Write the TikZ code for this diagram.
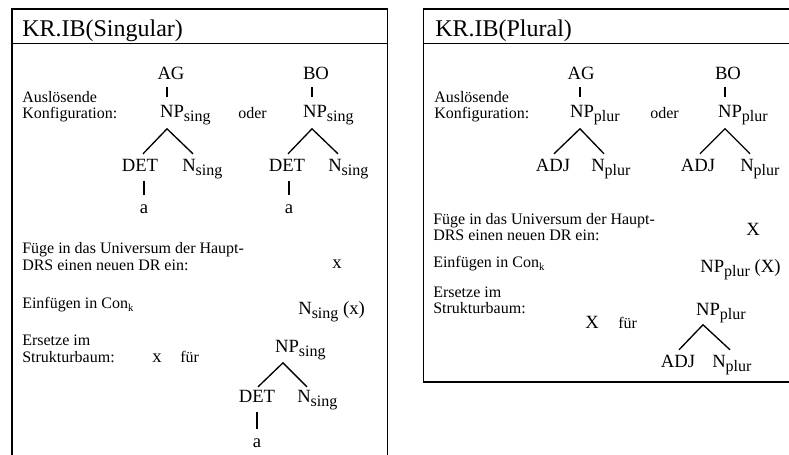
\documentclass[tikz,border=0pt]{standalone}
\usepackage{fontspec}
\setmainfont{Liberation Serif}
\usetikzlibrary{calc}

% lowered index in a smaller size (NP_sing, Con_k)
\newcommand{\lowsub}[2][12]{\raisebox{-0.22em}{\fontsize{#1}{#1}\selectfont #2}}

\begin{document}
\begin{tikzpicture}[
  x=0.75pt, y=-0.75pt,
  ttl/.style={font=\fontsize{18}{18}\selectfont, anchor=base west, inner sep=0pt},
  txt/.style={font=\fontsize{12}{12.5}\selectfont, anchor=base west, inner sep=0pt},
  cat/.style={font=\fontsize{14}{14}\selectfont, anchor=base, inner sep=0pt},
  frame/.style={line width=1pt},
  edge/.style={line width=1pt},
]
  \useasboundingbox (0,0) rectangle (789,454);

  % two frames, each with a title bar
  \draw[frame] (12,9) rectangle (387.5,470);
  \draw[frame] (12,43.5) -- (387.5,43.5);
  \draw[frame] (423.5,9) rectangle (795,382);
  \draw[frame] (423.5,43.5) -- (795,43.5);

  %% ---------------- singular ----------------
  \node[ttl] (title1) at (22,36) {KR.IB(Singular)};
  \node[txt] (trig1) at (22,102) {Auslösende};
  \node[txt] (trig1b) at (22,118) {Konfiguration:};

  \node[cat] (ag1) at (171,79) {AG};
  \node[cat] (np1) at (172,117) {NP\rlap{\lowsub{sing}}};
  \node[cat] (det1) at (140,171) {DET};
  \node[cat] (n1) at (189,171) {N\rlap{\lowsub{sing}}};
  \node[cat] (a1) at (144,213) {a};

  \node[txt] (oder1) at (238,118) {oder};

  \node[cat] (bo1) at (316,79) {BO};
  \node[cat] (np2) at (315,117) {NP\rlap{\lowsub{sing}}};
  \node[cat] (det2) at (287,171) {DET};
  \node[cat] (n2) at (335,171) {N\rlap{\lowsub{sing}}};
  \node[cat] (a2) at (289,213) {a};

  \coordinate (np1t) at ($(np1.south)+(-5,4)$);
  \coordinate (np2t) at ($(np2.south)+(-3,4)$);
  \draw[edge, shorten <=6pt, shorten >=6pt] (ag1.south -| np1t) -- (np1.north -| np1t);
  \draw[edge, shorten <=6pt, shorten >=6pt] (bo1.south -| np2t) -- (np2.north -| np2t);
  \draw[edge] (np1t) +(-24,25) -- (np1t) -- +(26,25);
  \draw[edge] (np2t) +(-24,25) -- (np2t) -- +(26,25);
  \draw[edge, shorten <=7pt, shorten >=7pt] (det1.south -| a1) -- (a1.north);
  \draw[edge, shorten <=7pt, shorten >=7pt] (det2.south -| a2) -- (a2.north);

  \node[txt] (univ1) at (22,253) {Füge in das Universum der Haupt-};
  \node[txt] (univ1b) at (22,270) {DRS einen neuen DR ein:};
  \node[cat] (x1) at (337,268) {x};

  \node[txt] (con1) at (22,308) {Einfügen in Con\lowsub[8]{k}};
  \node[cat, anchor=base west] (pred1) at (298,314) {N\lowsub{sing} (x)};

  \node[txt] (repl1) at (22,345) {Ersetze im};
  \node[txt] (repl1b) at (22,362) {Strukturbaum:};
  \node[cat] (x2) at (157,362) {x};
  \node[txt] (fuer1) at (180,362) {für};

  \node[cat] (np3) at (287,352) {NP\rlap{\lowsub{sing}}};
  \node[cat] (det3) at (257,402) {DET};
  \node[cat] (n3) at (304,402) {N\rlap{\lowsub{sing}}};
  \node[cat] (a3) at (257,447) {a};

  \coordinate (np3t) at ($(np3.south)+(-4,3)$);
  \draw[edge] (np3t) +(-25,24) -- (np3t) -- +(24,24);
  \draw[edge, shorten <=7pt, shorten >=7pt] (det3.south -| a3) -- (a3.north);

  %% ---------------- plural ----------------
  \node[ttl] (title2) at (435,36) {KR.IB(Plural)};
  \node[txt] (trig2) at (434,102) {Auslösende};
  \node[txt] (trig2b) at (434,118) {Konfiguration:};

  \node[cat] (ag2) at (581,79) {AG};
  \node[cat] (np4) at (582,117) {NP\rlap{\lowsub{plur}}};
  \node[cat] (adj1) at (553,171) {ADJ};
  \node[cat] (n4) at (598,171) {N\rlap{\lowsub{plur}}};

  \node[txt] (oder2) at (650,118) {oder};

  \node[cat] (bo2) at (728,79) {BO};
  \node[cat] (np5) at (730,117) {NP\rlap{\lowsub{plur}}};
  \node[cat] (adj2) at (698,171) {ADJ};
  \node[cat] (n5) at (747,171) {N\rlap{\lowsub{plur}}};

  \coordinate (np4t) at ($(np4.south)+(-2,4)$);
  \coordinate (np5t) at ($(np5.south)+(-5,4)$);
  \draw[edge, shorten <=6pt, shorten >=6pt] (ag2.south -| np4t) -- (np4.north -| np4t);
  \draw[edge, shorten <=6pt, shorten >=6pt] (bo2.south -| np5t) -- (np5.north -| np5t);
  \draw[edge] (np4t) +(-26,25) -- (np4t) -- +(24,25);
  \draw[edge] (np5t) +(-25,25) -- (np5t) -- +(25,25);

  \node[txt] (univ2) at (433,224) {Füge in das Universum der Haupt-};
  \node[txt] (univ2b) at (433,240) {DRS einen neuen DR ein:};
  \node[cat] (x3) at (753,235) {X};

  \node[txt] (con2) at (433,267) {Einfügen in Con\lowsub[8]{k}};
  \node[cat, anchor=base west] (pred2) at (700,272) {NP\lowsub{plur} (X)};

  \node[txt] (repl2) at (433,297) {Ersetze im};
  \node[txt] (repl2b) at (433,313) {Strukturbaum:};
  \node[cat] (x4) at (592,328) {X};
  \node[txt] (fuer2) at (618,328) {für};

  \node[cat] (np6) at (708,315) {NP\rlap{\lowsub{plur}}};
  \node[cat] (adj3) at (678,367) {ADJ};
  \node[cat] (n6) at (719,367) {N\rlap{\lowsub{plur}}};

  \coordinate (np6t) at ($(np6.south)+(-5,2)$);
  \draw[edge] (np6t) +(-24,25) -- (np6t) -- +(27,25);
\end{tikzpicture}
\end{document}
